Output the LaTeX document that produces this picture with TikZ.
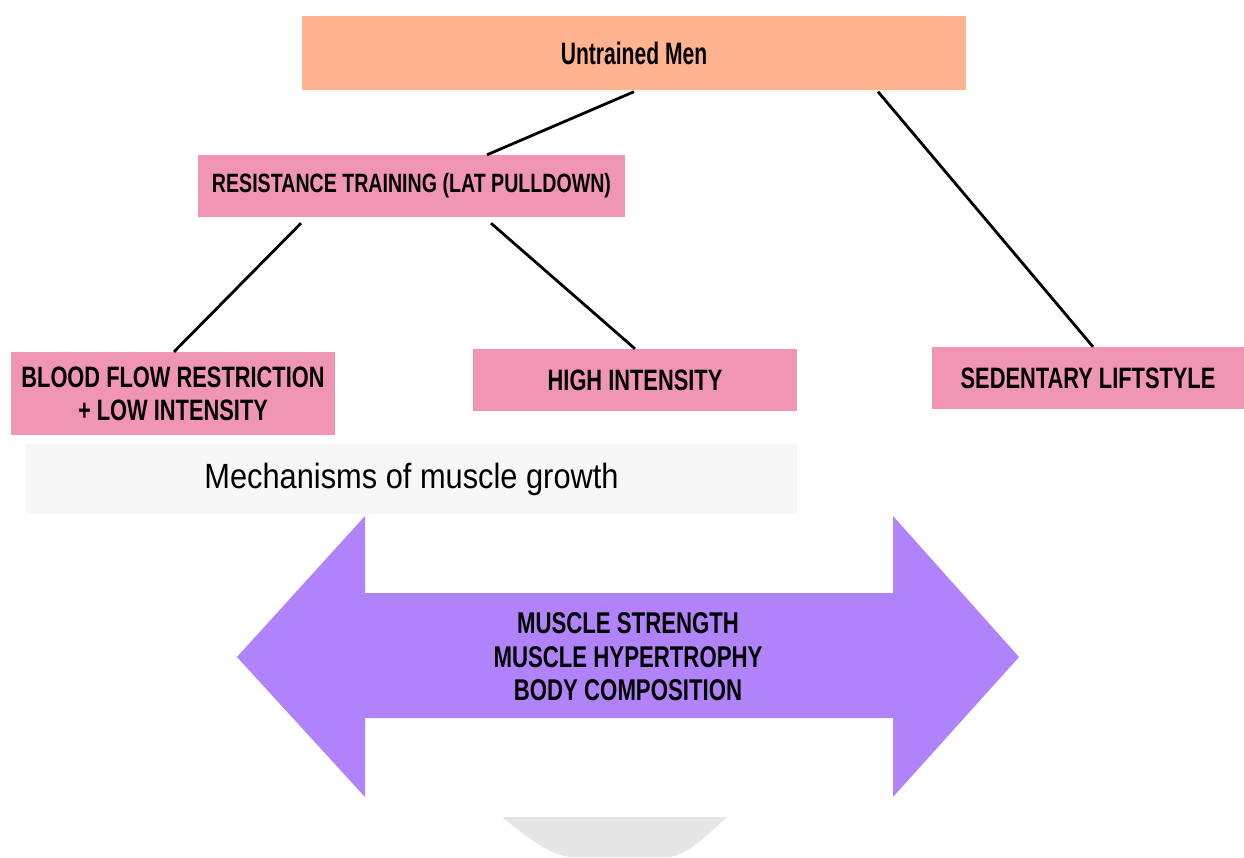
\documentclass[tikz,border=0pt]{standalone}
\usepackage{fontspec}
\setmainfont{Liberation Sans}
\newfontfamily\condfont[FakeStretch=0.74]{Liberation Sans}
\newfontfamily\tallfont[FakeStretch=0.68]{Liberation Sans}
\newfontfamily\regfont[FakeStretch=0.88]{Liberation Sans}
\definecolor{peachc}{RGB}{255,179,142}
\definecolor{pinkc}{RGB}{240,150,180}
\definecolor{purplec}{RGB}{176,131,251}
\definecolor{mechc}{RGB}{247,247,247}
\definecolor{greyc}{RGB}{230,230,230}
\tikzset{
  box/.style={rectangle, inner sep=0pt, align=center, text=black},
  peachbox/.style={box, fill=peachc, font=\tallfont\bfseries\fontsize{31}{33}\selectfont},
  pinkbox/.style={box, fill=pinkc, font=\condfont\bfseries\fontsize{29.5}{33}\selectfont},
  mechbox/.style={box, fill=mechc, font=\regfont\fontsize{35}{40}\selectfont},
  conn/.style={draw=black, line width=2.8pt},
  arrowlabel/.style={align=center, inner sep=0pt, font=\condfont\bfseries\fontsize{30}{33.5}\selectfont},
}
\begin{document}
\begin{tikzpicture}[x=1pt,y=-1pt]
\useasboundingbox (0,0) rectangle (1244,857);
\fill[white] (0,0) rectangle (1244,857);

\node[peachbox, minimum width=664pt, minimum height=74pt] (um) at (634,53) {Untrained Men};
\node[pinkbox, minimum width=427pt, minimum height=62pt, font=\condfont\bfseries\fontsize{26.5}{33}\selectfont] (res) at (411.5,186) {RESISTANCE TRAINING (LAT PULLDOWN)};
\node[pinkbox, minimum width=324pt, minimum height=83pt] (bfr) at (173,393.5) {BLOOD FLOW RESTRICTION\\+ LOW INTENSITY};
\node[pinkbox, minimum width=324pt, minimum height=62pt] (high) at (635,380) {HIGH INTENSITY};
\node[pinkbox, minimum width=312pt, minimum height=62pt] (sed) at (1088,378) {SEDENTARY LIFTSTYLE};
\node[mechbox, minimum width=771pt, minimum height=70pt, text depth=6pt] (mech) at (411.5,479) {Mechanisms of muscle growth};

\fill[purplec] (237,657) -- (365,516) -- (365,593) -- (893,593) -- (893,516) -- (1019,657)
  -- (893,797) -- (893,718) -- (365,718) -- (365,797) -- cycle;
\node[arrowlabel] (out) at (628,657) {MUSCLE STRENGTH\\MUSCLE HYPERTROPHY\\BODY COMPOSITION};

\fill[greyc] (502,817) -- (727,817) .. controls (705,837) and (685,857) .. (667,857)
  -- (573,857) .. controls (552,857) and (528,838) .. (502,817) -- cycle;

\draw[conn] ([yshift=-1.5pt]um.south) -- ([xshift=75.5pt]res.north);
\draw[conn] ([xshift=244pt,yshift=-1.5pt]um.south) -- ([xshift=5pt]sed.north);
\draw[conn] ([xshift=-110.5pt,yshift=-6pt]res.south) -- ([xshift=1pt]bfr.north);
\draw[conn] ([xshift=79.5pt,yshift=-6pt]res.south) -- (high.north);
\end{tikzpicture}
\end{document}
